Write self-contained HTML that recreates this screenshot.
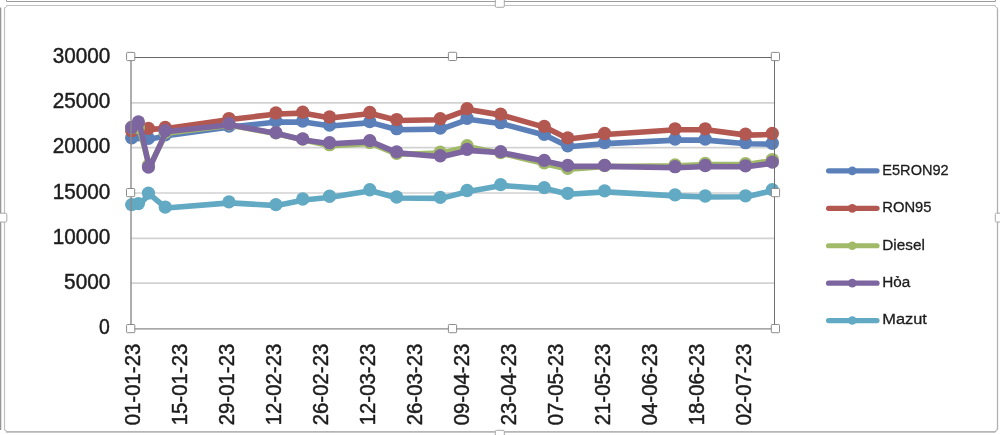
<!DOCTYPE html>
<html><head><meta charset="utf-8"><title>chart</title>
<style>
html,body{margin:0;padding:0;background:#fff;}
body{width:1000px;height:435px;overflow:hidden;font-family:"Liberation Sans",sans-serif;}
svg{display:block;will-change:transform;}
text{font-family:"Liberation Sans",sans-serif;fill:#1c1c1c;stroke:#1c1c1c;stroke-width:0.45px;}
text.lg{stroke-width:0.3px;}
</style></head><body>
<svg width="1000" height="435" viewBox="0 0 1000 435">
<rect x="0" y="0" width="1000" height="435" fill="#ffffff"/>

<g fill="none" stroke-linecap="butt">
<path d="M6.5 0 V1.5 H995.5 V0" stroke="#9d9d9d" stroke-width="1"/>
<path d="M7 432 L4.5 429.5 V8.2 L7.2 5.5 H994.8 L997.5 8.2" stroke="#c0c0c0" stroke-width="1.2"/>
<path d="M997.5 8.2 V429.5 L995 432" stroke="#b0b0b0" stroke-width="1.3"/>
<path d="M995 431.9 H6" stroke="#b6b6b6" stroke-width="1.7"/>
<path d="M0.5 7.5 V430" stroke="#979797" stroke-width="1.6"/>
</g>

<rect x="495.3" y="-2" width="9.0" height="9.3" rx="1.2" fill="#fff" stroke="#a8a8a8" stroke-width="1"/>
<rect x="495.3" y="430.3" width="9.0" height="6.699999999999989" rx="1.2" fill="#fff" stroke="#a8a8a8" stroke-width="1"/>
<rect x="-2" y="213.2" width="8.8" height="8.800000000000011" rx="1.2" fill="#fff" stroke="#a8a8a8" stroke-width="1"/>
<rect x="995.3" y="213.2" width="6.7000000000000455" height="8.800000000000011" rx="1.2" fill="#fff" stroke="#a8a8a8" stroke-width="1"/>
<rect x="-2" y="-2" width="8" height="9" fill="#fff"/>
<rect x="996.2" y="-2" width="6" height="9" fill="#fff"/>
<rect x="-2" y="431.2" width="8" height="6" fill="#fff"/>
<rect x="996.5" y="430.5" width="6" height="6" fill="#fff"/>


<line x1="131.0" y1="283.10" x2="775.0" y2="283.10" stroke="#d2d2d2" stroke-width="1.7"/>
<line x1="131.0" y1="238.45" x2="775.0" y2="238.45" stroke="#d2d2d2" stroke-width="1.7"/>
<line x1="131.0" y1="193.00" x2="775.0" y2="193.00" stroke="#d2d2d2" stroke-width="1.7"/>
<line x1="131.0" y1="147.55" x2="775.0" y2="147.55" stroke="#d2d2d2" stroke-width="1.7"/>
<line x1="131.0" y1="102.90" x2="775.0" y2="102.90" stroke="#d2d2d2" stroke-width="1.7"/>
<polyline points="132.68,138.74 139.39,135.75 149.45,139.37 166.22,135.75 229.95,126.98 276.91,122.09 303.74,122.00 330.57,126.07 370.82,122.64 397.66,129.69 441.26,129.15 468.09,119.29 501.64,123.72 545.24,135.30 568.72,146.79 605.61,143.62 676.05,140.10 706.24,140.10 746.49,143.71 773.32,144.26" fill="none" stroke="#5b80b9" stroke-width="5.6" stroke-linejoin="round" stroke-linecap="round"/>
<circle cx="131.68" cy="137.74" r="6.65" fill="#5b80b9"/>
<circle cx="138.39" cy="134.75" r="6.65" fill="#5b80b9"/>
<circle cx="148.45" cy="138.37" r="6.65" fill="#5b80b9"/>
<circle cx="165.22" cy="134.75" r="6.65" fill="#5b80b9"/>
<circle cx="228.95" cy="125.98" r="6.65" fill="#5b80b9"/>
<circle cx="275.91" cy="121.09" r="6.65" fill="#5b80b9"/>
<circle cx="302.74" cy="121.00" r="6.65" fill="#5b80b9"/>
<circle cx="329.57" cy="125.07" r="6.65" fill="#5b80b9"/>
<circle cx="369.82" cy="121.64" r="6.65" fill="#5b80b9"/>
<circle cx="396.66" cy="128.69" r="6.65" fill="#5b80b9"/>
<circle cx="440.26" cy="128.15" r="6.65" fill="#5b80b9"/>
<circle cx="467.09" cy="118.29" r="6.65" fill="#5b80b9"/>
<circle cx="500.64" cy="122.72" r="6.65" fill="#5b80b9"/>
<circle cx="544.24" cy="134.30" r="6.65" fill="#5b80b9"/>
<circle cx="567.72" cy="145.79" r="6.65" fill="#5b80b9"/>
<circle cx="604.61" cy="142.62" r="6.65" fill="#5b80b9"/>
<circle cx="675.05" cy="139.10" r="6.65" fill="#5b80b9"/>
<circle cx="705.24" cy="139.10" r="6.65" fill="#5b80b9"/>
<circle cx="745.49" cy="142.71" r="6.65" fill="#5b80b9"/>
<circle cx="772.32" cy="143.26" r="6.65" fill="#5b80b9"/>


<polyline points="132.68,131.68 139.39,128.52 149.45,129.42 166.22,128.52 229.95,119.56 276.91,113.95 303.74,113.14 330.57,117.93 370.82,113.50 397.66,120.56 441.26,119.74 468.09,109.61 501.64,115.13 545.24,127.34 568.72,138.92 605.61,134.49 676.05,129.78 706.24,129.78 746.49,135.12 773.32,134.49" fill="none" stroke="#b35751" stroke-width="5.6" stroke-linejoin="round" stroke-linecap="round"/>
<circle cx="131.68" cy="130.68" r="6.65" fill="#b35751"/>
<circle cx="138.39" cy="127.52" r="6.65" fill="#b35751"/>
<circle cx="148.45" cy="128.42" r="6.65" fill="#b35751"/>
<circle cx="165.22" cy="127.52" r="6.65" fill="#b35751"/>
<circle cx="228.95" cy="118.56" r="6.65" fill="#b35751"/>
<circle cx="275.91" cy="112.95" r="6.65" fill="#b35751"/>
<circle cx="302.74" cy="112.14" r="6.65" fill="#b35751"/>
<circle cx="329.57" cy="116.93" r="6.65" fill="#b35751"/>
<circle cx="369.82" cy="112.50" r="6.65" fill="#b35751"/>
<circle cx="396.66" cy="119.56" r="6.65" fill="#b35751"/>
<circle cx="440.26" cy="118.74" r="6.65" fill="#b35751"/>
<circle cx="467.09" cy="108.61" r="6.65" fill="#b35751"/>
<circle cx="500.64" cy="114.13" r="6.65" fill="#b35751"/>
<circle cx="544.24" cy="126.34" r="6.65" fill="#b35751"/>
<circle cx="567.72" cy="137.92" r="6.65" fill="#b35751"/>
<circle cx="604.61" cy="133.49" r="6.65" fill="#b35751"/>
<circle cx="675.05" cy="128.78" r="6.65" fill="#b35751"/>
<circle cx="705.24" cy="128.78" r="6.65" fill="#b35751"/>
<circle cx="745.49" cy="134.12" r="6.65" fill="#b35751"/>
<circle cx="772.32" cy="133.49" r="6.65" fill="#b35751"/>


<polyline points="132.68,128.52 139.39,128.52 149.45,166.51 166.22,133.22 229.95,125.17 276.91,133.85 303.74,140.10 330.57,145.70 370.82,143.44 397.66,154.30 441.26,153.12 468.09,146.70 501.64,153.49 545.24,163.80 568.72,169.23 605.61,166.51 676.05,165.88 706.24,164.52 746.49,164.61 773.32,160.54" fill="none" stroke="#a0ba67" stroke-width="5.6" stroke-linejoin="round" stroke-linecap="round"/>
<circle cx="131.68" cy="127.52" r="6.65" fill="#a0ba67"/>
<circle cx="138.39" cy="127.52" r="6.65" fill="#a0ba67"/>
<circle cx="148.45" cy="165.51" r="6.65" fill="#a0ba67"/>
<circle cx="165.22" cy="132.22" r="6.65" fill="#a0ba67"/>
<circle cx="228.95" cy="124.17" r="6.65" fill="#a0ba67"/>
<circle cx="275.91" cy="132.85" r="6.65" fill="#a0ba67"/>
<circle cx="302.74" cy="139.10" r="6.65" fill="#a0ba67"/>
<circle cx="329.57" cy="144.70" r="6.65" fill="#a0ba67"/>
<circle cx="369.82" cy="142.44" r="6.65" fill="#a0ba67"/>
<circle cx="396.66" cy="153.30" r="6.65" fill="#a0ba67"/>
<circle cx="440.26" cy="152.12" r="6.65" fill="#a0ba67"/>
<circle cx="467.09" cy="145.70" r="6.65" fill="#a0ba67"/>
<circle cx="500.64" cy="152.49" r="6.65" fill="#a0ba67"/>
<circle cx="544.24" cy="162.80" r="6.65" fill="#a0ba67"/>
<circle cx="567.72" cy="168.23" r="6.65" fill="#a0ba67"/>
<circle cx="604.61" cy="165.51" r="6.65" fill="#a0ba67"/>
<circle cx="675.05" cy="164.88" r="6.65" fill="#a0ba67"/>
<circle cx="705.24" cy="163.52" r="6.65" fill="#a0ba67"/>
<circle cx="745.49" cy="163.61" r="6.65" fill="#a0ba67"/>
<circle cx="772.32" cy="159.54" r="6.65" fill="#a0ba67"/>


<polyline points="132.68,128.43 139.39,123.00 149.45,168.05 166.22,131.68 229.95,124.72 276.91,133.58 303.74,139.92 330.57,143.71 370.82,141.63 397.66,152.85 441.26,156.74 468.09,150.41 501.64,152.67 545.24,161.36 568.72,166.33 605.61,166.42 676.05,167.69 706.24,166.51 746.49,166.78 773.32,163.17" fill="none" stroke="#7d65a0" stroke-width="5.6" stroke-linejoin="round" stroke-linecap="round"/>
<circle cx="131.68" cy="127.43" r="6.65" fill="#7d65a0"/>
<circle cx="138.39" cy="122.00" r="6.65" fill="#7d65a0"/>
<circle cx="148.45" cy="167.05" r="6.65" fill="#7d65a0"/>
<circle cx="165.22" cy="130.68" r="6.65" fill="#7d65a0"/>
<circle cx="228.95" cy="123.72" r="6.65" fill="#7d65a0"/>
<circle cx="275.91" cy="132.58" r="6.65" fill="#7d65a0"/>
<circle cx="302.74" cy="138.92" r="6.65" fill="#7d65a0"/>
<circle cx="329.57" cy="142.71" r="6.65" fill="#7d65a0"/>
<circle cx="369.82" cy="140.63" r="6.65" fill="#7d65a0"/>
<circle cx="396.66" cy="151.85" r="6.65" fill="#7d65a0"/>
<circle cx="440.26" cy="155.74" r="6.65" fill="#7d65a0"/>
<circle cx="467.09" cy="149.41" r="6.65" fill="#7d65a0"/>
<circle cx="500.64" cy="151.67" r="6.65" fill="#7d65a0"/>
<circle cx="544.24" cy="160.36" r="6.65" fill="#7d65a0"/>
<circle cx="567.72" cy="165.33" r="6.65" fill="#7d65a0"/>
<circle cx="604.61" cy="165.42" r="6.65" fill="#7d65a0"/>
<circle cx="675.05" cy="166.69" r="6.65" fill="#7d65a0"/>
<circle cx="705.24" cy="165.51" r="6.65" fill="#7d65a0"/>
<circle cx="745.49" cy="165.78" r="6.65" fill="#7d65a0"/>
<circle cx="772.32" cy="162.17" r="6.65" fill="#7d65a0"/>


<polyline points="132.68,205.59 139.39,204.60 149.45,194.10 166.22,208.04 229.95,202.88 276.91,205.59 303.74,199.98 330.57,197.27 370.82,190.76 397.66,197.99 441.26,198.36 468.09,191.48 501.64,185.60 545.24,188.59 568.72,194.29 605.61,191.84 676.05,195.91 706.24,197.00 746.49,196.82 773.32,190.58" fill="none" stroke="#62a9c3" stroke-width="5.6" stroke-linejoin="round" stroke-linecap="round"/>
<circle cx="131.68" cy="204.59" r="6.65" fill="#62a9c3"/>
<circle cx="138.39" cy="203.60" r="6.65" fill="#62a9c3"/>
<circle cx="148.45" cy="193.10" r="6.65" fill="#62a9c3"/>
<circle cx="165.22" cy="207.04" r="6.65" fill="#62a9c3"/>
<circle cx="228.95" cy="201.88" r="6.65" fill="#62a9c3"/>
<circle cx="275.91" cy="204.59" r="6.65" fill="#62a9c3"/>
<circle cx="302.74" cy="198.98" r="6.65" fill="#62a9c3"/>
<circle cx="329.57" cy="196.27" r="6.65" fill="#62a9c3"/>
<circle cx="369.82" cy="189.76" r="6.65" fill="#62a9c3"/>
<circle cx="396.66" cy="196.99" r="6.65" fill="#62a9c3"/>
<circle cx="440.26" cy="197.36" r="6.65" fill="#62a9c3"/>
<circle cx="467.09" cy="190.48" r="6.65" fill="#62a9c3"/>
<circle cx="500.64" cy="184.60" r="6.65" fill="#62a9c3"/>
<circle cx="544.24" cy="187.59" r="6.65" fill="#62a9c3"/>
<circle cx="567.72" cy="193.29" r="6.65" fill="#62a9c3"/>
<circle cx="604.61" cy="190.84" r="6.65" fill="#62a9c3"/>
<circle cx="675.05" cy="194.91" r="6.65" fill="#62a9c3"/>
<circle cx="705.24" cy="196.00" r="6.65" fill="#62a9c3"/>
<circle cx="745.49" cy="195.82" r="6.65" fill="#62a9c3"/>
<circle cx="772.32" cy="189.58" r="6.65" fill="#62a9c3"/>


<line x1="131.0" y1="57.5" x2="131.0" y2="328.9" stroke="#8a8a8a" stroke-width="1.4"/>
<line x1="131.0" y1="328.9" x2="775.0" y2="328.9" stroke="#8a8a8a" stroke-width="1.4"/>
<path d="M131.0 57.5 H774.5" fill="none" stroke="#666666" stroke-width="1.2"/>
<path d="M774.5 57.5 V328.9" fill="none" stroke="#707070" stroke-width="1"/>
<rect x="126.6" y="52.4" width="8.2" height="8.2" rx="0.8" fill="#fff" stroke="#868686" stroke-width="0.95"/>
<rect x="448.4" y="52.3" width="8.2" height="8.2" rx="0.8" fill="#fff" stroke="#868686" stroke-width="0.95"/>
<rect x="771.3" y="52.4" width="8.2" height="8.2" rx="0.8" fill="#fff" stroke="#868686" stroke-width="0.95"/>
<rect x="126.5" y="188.5" width="8.2" height="8.2" rx="0.8" fill="#fff" stroke="#868686" stroke-width="0.95"/>
<rect x="771.4" y="188.5" width="8.2" height="8.2" rx="0.8" fill="#fff" stroke="#868686" stroke-width="0.95"/>
<rect x="126.6" y="324.5" width="8.2" height="8.2" rx="0.8" fill="#fff" stroke="#868686" stroke-width="0.95"/>
<rect x="448.4" y="324.5" width="8.2" height="8.2" rx="0.8" fill="#fff" stroke="#868686" stroke-width="0.95"/>
<rect x="771.3" y="324.5" width="8.2" height="8.2" rx="0.8" fill="#fff" stroke="#868686" stroke-width="0.95"/>


<text x="109.7" y="334.35" font-size="21.3" text-anchor="end" textLength="10.8" lengthAdjust="spacingAndGlyphs">0</text>
<text x="110.4" y="289.12" font-size="21.3" text-anchor="end" textLength="46.3" lengthAdjust="spacingAndGlyphs">5000</text>
<text x="110.4" y="243.90" font-size="21.3" text-anchor="end" textLength="57.6" lengthAdjust="spacingAndGlyphs">10000</text>
<text x="110.4" y="198.68" font-size="21.3" text-anchor="end" textLength="57.6" lengthAdjust="spacingAndGlyphs">15000</text>
<text x="110.4" y="153.45" font-size="21.3" text-anchor="end" textLength="57.6" lengthAdjust="spacingAndGlyphs">20000</text>
<text x="110.4" y="108.23" font-size="21.3" text-anchor="end" textLength="57.6" lengthAdjust="spacingAndGlyphs">25000</text>
<text x="110.4" y="63.00" font-size="21.3" text-anchor="end" textLength="57.6" lengthAdjust="spacingAndGlyphs">30000</text>
<text transform="translate(140.08,425.3) rotate(-90)" font-size="21.3" textLength="81.6" lengthAdjust="spacingAndGlyphs">01-01-23</text>
<text transform="translate(187.04,425.3) rotate(-90)" font-size="21.3" textLength="81.6" lengthAdjust="spacingAndGlyphs">15-01-23</text>
<text transform="translate(233.99,425.3) rotate(-90)" font-size="21.3" textLength="81.6" lengthAdjust="spacingAndGlyphs">29-01-23</text>
<text transform="translate(280.95,425.3) rotate(-90)" font-size="21.3" textLength="81.6" lengthAdjust="spacingAndGlyphs">12-02-23</text>
<text transform="translate(327.91,425.3) rotate(-90)" font-size="21.3" textLength="81.6" lengthAdjust="spacingAndGlyphs">26-02-23</text>
<text transform="translate(374.87,425.3) rotate(-90)" font-size="21.3" textLength="81.6" lengthAdjust="spacingAndGlyphs">12-03-23</text>
<text transform="translate(421.83,425.3) rotate(-90)" font-size="21.3" textLength="81.6" lengthAdjust="spacingAndGlyphs">26-03-23</text>
<text transform="translate(468.79,425.3) rotate(-90)" font-size="21.3" textLength="81.6" lengthAdjust="spacingAndGlyphs">09-04-23</text>
<text transform="translate(515.74,425.3) rotate(-90)" font-size="21.3" textLength="81.6" lengthAdjust="spacingAndGlyphs">23-04-23</text>
<text transform="translate(562.70,425.3) rotate(-90)" font-size="21.3" textLength="81.6" lengthAdjust="spacingAndGlyphs">07-05-23</text>
<text transform="translate(609.66,425.3) rotate(-90)" font-size="21.3" textLength="81.6" lengthAdjust="spacingAndGlyphs">21-05-23</text>
<text transform="translate(656.62,425.3) rotate(-90)" font-size="21.3" textLength="81.6" lengthAdjust="spacingAndGlyphs">04-06-23</text>
<text transform="translate(703.58,425.3) rotate(-90)" font-size="21.3" textLength="81.6" lengthAdjust="spacingAndGlyphs">18-06-23</text>
<text transform="translate(750.54,425.3) rotate(-90)" font-size="21.3" textLength="81.6" lengthAdjust="spacingAndGlyphs">02-07-23</text>


<line x1="828.6" y1="170.85" x2="877" y2="170.85" stroke="#5b80b9" stroke-width="5.2" stroke-linecap="round"/>
<circle cx="852.3" cy="170.85" r="4.3" fill="#5b80b9"/>
<text class="lg" x="882.3" y="174.70" font-size="15.3" textLength="66.4" lengthAdjust="spacingAndGlyphs">E5RON92</text>
<line x1="828.6" y1="208.35" x2="877" y2="208.35" stroke="#b35751" stroke-width="5.2" stroke-linecap="round"/>
<circle cx="852.3" cy="208.35" r="4.3" fill="#b35751"/>
<text class="lg" x="882.3" y="212.20" font-size="15.3" textLength="49.2" lengthAdjust="spacingAndGlyphs">RON95</text>
<line x1="828.6" y1="245.75" x2="877" y2="245.75" stroke="#a0ba67" stroke-width="5.2" stroke-linecap="round"/>
<circle cx="852.3" cy="245.75" r="4.3" fill="#a0ba67"/>
<text class="lg" x="882.3" y="249.60" font-size="15.3" textLength="42.6" lengthAdjust="spacingAndGlyphs">Diesel</text>
<line x1="828.6" y1="283.15" x2="877" y2="283.15" stroke="#7d65a0" stroke-width="5.2" stroke-linecap="round"/>
<circle cx="852.3" cy="283.15" r="4.3" fill="#7d65a0"/>
<text class="lg" x="882.3" y="287.00" font-size="15.3" >Hỏa</text>
<line x1="828.6" y1="320.55" x2="877" y2="320.55" stroke="#62a9c3" stroke-width="5.2" stroke-linecap="round"/>
<circle cx="852.3" cy="320.55" r="4.3" fill="#62a9c3"/>
<text class="lg" x="882.3" y="324.40" font-size="15.3" textLength="44.6" lengthAdjust="spacingAndGlyphs">Mazut</text>
</svg></body></html>
